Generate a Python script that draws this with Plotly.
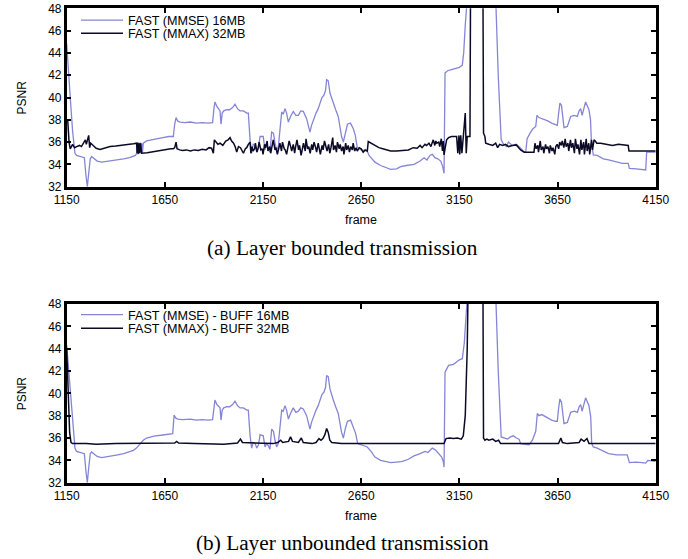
import plotly.graph_objects as go

# ---------------- data ----------------
frames_a_mmse = [1150, 1160, 1170, 1180, 1192, 1200, 1215, 1230, 1240, 1248, 1255, 1262, 1270, 1277, 1290,
                 1305, 1328, 1350, 1380, 1410, 1440, 1470, 1500, 1506, 1510, 1513, 1517, 1520, 1524, 1528,
                 1532, 1536, 1540, 1557, 1580, 1610, 1640, 1670, 1693, 1700, 1707, 1715, 1727, 1750, 1780,
                 1810, 1840, 1870, 1893, 1900, 1905, 1915, 1925, 1931, 1936, 1942, 1950, 1965, 1980, 1995,
                 2007, 2020, 2033, 2050, 2067, 2075, 2084, 2092, 2100, 2110, 2118, 2127, 2135, 2151, 2160,
                 2168, 2177, 2185, 2194, 2203, 2211, 2219, 2228, 2236, 2240, 2245, 2253, 2262, 2270, 2279,
                 2290, 2304, 2317, 2330, 2342, 2355, 2372, 2380, 2389, 2397, 2406, 2420, 2431, 2440, 2450,
                 2460, 2468, 2474, 2482, 2491, 2500, 2508, 2520, 2533, 2550, 2559, 2570, 2580, 2595, 2610,
                 2620, 2630, 2650, 2670, 2681, 2690, 2720, 2749, 2780, 2800, 2830, 2851, 2880, 2919, 2950,
                 2970, 2985, 3000, 3012, 3025, 3040, 3055, 3065, 3072, 3077, 3090, 3110, 3130, 3150, 3165,
                 3172, 3180, 3190, 3195, 3333, 3348, 3363, 3375, 3390, 3400, 3420, 3440, 3460, 3475, 3488,
                 3495, 3510, 3525, 3539, 3545, 3555, 3570, 3580, 3600, 3620, 3640, 3649, 3655, 3662, 3670,
                 3683, 3700, 3717, 3735, 3751, 3760, 3768, 3775, 3785, 3793, 3810, 3818, 3822, 3832, 3852,
                 3883, 3910, 3951, 3980, 4010, 4016, 4050, 4080, 4099, 4104, 4150]
psnr_a_mmse = [44.8, 42.5, 39.5, 37.0, 35.0, 34.8, 34.75, 34.7, 34.6, 33.0, 32.0, 33.2, 34.5, 34.7, 34.5,
               34.3, 34.2, 34.25, 34.35, 34.45, 34.5, 34.6, 34.8, 35.0, 35.9, 34.9, 35.9, 35.0, 35.95, 35.0,
               35.9, 35.1, 35.9, 36.1, 36.2, 36.3, 36.4, 36.5, 36.5, 37.6, 38.2, 37.9, 37.8, 37.75, 37.8,
               37.7, 37.75, 37.7, 37.75, 39.0, 39.6, 39.2, 38.9, 38.8, 37.6, 38.6, 38.8, 38.9, 38.9, 39.1,
               39.4, 39.0, 38.8, 38.8, 38.6, 38.6, 36.2, 35.0, 35.8, 35.7, 35.1, 35.6, 36.5, 36.5, 35.3,
               35.7, 35.5, 35.1, 36.9, 36.8, 35.9, 35.3, 35.6, 36.9, 37.8, 38.7, 38.5, 39.0, 38.6, 37.8,
               38.3, 38.75, 38.4, 38.4, 38.8, 38.75, 38.1, 37.6, 36.9, 37.5, 38.0, 38.6, 39.0, 39.4, 40.0,
               40.2, 40.6, 41.6, 41.5, 40.4, 39.9, 39.5, 38.9, 38.3, 36.5, 36.0, 37.0, 37.6, 37.7, 37.2,
               36.6, 35.5, 35.3, 35.2, 35.2, 34.8, 34.2, 33.9, 33.7, 33.55, 33.6, 33.8, 33.9, 34.0, 34.3,
               34.6, 34.4, 34.8, 34.9, 34.6, 34.5, 34.3, 33.8, 33.2, 42.2, 42.4, 42.5, 42.6, 42.7, 42.9,
               44.0, 46.5, 48.5, 50.0, 50.0, 42.0, 36.2, 35.8, 35.6, 36.0, 35.7, 35.8, 35.5, 35.2, 35.1,
               36.3, 36.8, 37.2, 37.4, 38.4, 38.2, 38.1, 38.1, 37.9, 37.7, 37.6, 37.5, 38.5, 39.5, 39.3,
               37.3, 37.4, 38.3, 38.4, 38.3, 38.8, 39.0, 38.4, 39.2, 39.6, 38.9, 38.0, 36.2, 34.85, 34.8,
               34.5, 34.4, 34.2, 34.1, 34.1, 33.65, 33.6, 33.55, 33.5, 35.1, 35.1]

frames_a_mmax = [1150, 1155, 1162, 1168, 1180, 1190, 1201, 1215, 1225, 1235, 1245, 1250, 1258, 1262, 1267,
                 1272, 1285, 1300, 1320, 1350, 1371, 1400, 1430, 1460, 1490, 1506, 1509, 1512, 1515, 1519,
                 1522, 1526, 1530, 1532, 1560, 1590, 1620, 1650, 1680, 1693, 1700, 1707, 1712, 1725, 1740,
                 1760, 1780, 1800, 1820, 1840, 1860, 1875, 1888, 1893, 1897, 1902, 1910, 1920, 1931, 1945,
                 1960, 1972, 1982, 1990, 2000, 2008, 2016, 2025, 2035, 2050, 2060, 2067, 2075, 2084, 2088,
                 2094, 2099, 2107, 2111, 2119, 2126, 2130, 2139, 2146, 2150, 2158, 2163, 2171, 2175, 2185,
                 2189, 2197, 2202, 2211, 2216, 2223, 2231, 2236, 2244, 2249, 2258, 2263, 2270, 2278, 2283,
                 2292, 2296, 2304, 2311, 2316, 2323, 2331, 2336, 2344, 2350, 2356, 2365, 2369, 2377, 2383,
                 2390, 2398, 2403, 2410, 2418, 2423, 2431, 2437, 2442, 2451, 2456, 2463, 2471, 2476, 2484,
                 2490, 2496, 2505, 2509, 2517, 2524, 2529, 2538, 2543, 2550, 2558, 2562, 2571, 2576, 2584,
                 2590, 2597, 2605, 2609, 2617, 2624, 2630, 2640, 2650, 2660, 2670, 2681, 2686, 2700, 2720,
                 2740, 2760, 2780, 2800, 2830, 2860, 2890, 2915, 2935, 2950, 2960, 2975, 2983, 2995, 3005,
                 3017, 3025, 3030, 3035, 3045, 3050, 3058, 3064, 3068, 3072, 3078, 3085, 3095, 3110, 3125,
                 3136, 3142, 3148, 3152, 3157, 3163, 3170, 3180, 3185, 3190, 3204, 3207, 3270, 3273, 3280,
                 3284, 3300, 3320, 3335, 3345, 3355, 3370, 3385, 3400, 3420, 3440, 3462, 3480, 3510, 3530,
                 3535, 3541, 3549, 3553, 3562, 3567, 3576, 3580, 3589, 3594, 3601, 3609, 3613, 3622, 3627,
                 3636, 3641, 3648, 3656, 3661, 3669, 3674, 3682, 3689, 3694, 3703, 3707, 3716, 3721, 3728,
                 3736, 3741, 3749, 3754, 3762, 3769, 3774, 3783, 3787, 3796, 3801, 3809, 3814, 3823, 3828,
                 3836, 3842, 3850, 3870, 3900, 3930, 3960, 3990, 4010, 4014, 4050, 4100, 4150]
psnr_a_mmax = [38.0, 38.0, 36.0, 35.4, 35.8, 35.5, 35.6, 35.7, 35.6, 35.9, 36.2, 35.8, 36.3, 36.6, 35.5,
               35.9, 35.7, 35.45, 35.35, 35.5, 35.6, 35.65, 35.7, 35.8, 35.85, 35.9, 35.0, 35.95, 34.95, 35.9,
               35.0, 35.9, 35.0, 35.0, 35.05, 35.15, 35.25, 35.3, 35.4, 35.4, 35.5, 36.0, 35.4, 35.3, 35.25,
               35.3, 35.2, 35.3, 35.25, 35.35, 35.3, 35.5, 35.45, 35.2, 35.0, 36.2, 36.0, 35.8, 35.9, 35.7,
               36.1, 36.2, 36.4, 36.1, 35.9, 35.6, 35.1, 35.6, 35.5, 35.0, 35.4, 35.5, 35.8, 36.0, 35.0,
               35.6, 35.2, 35.4, 35.9, 35.1, 35.5, 36.0, 35.3, 35.4, 34.9, 35.8, 35.5, 36.1, 35.2, 35.6,
               35.0, 35.7, 36.2, 35.3, 35.5, 34.9, 35.6, 35.9, 35.2, 36.0, 35.4, 35.3, 34.9, 35.7, 36.1,
               35.5, 35.2, 35.8, 35.0, 35.6, 36.2, 35.3, 35.7, 34.8, 35.5, 35.9, 35.2, 36.3, 35.4, 35.6,
               35.0, 35.8, 35.3, 36.0, 35.5, 35.1, 35.9, 35.4, 34.9, 35.7, 35.3, 36.1, 35.6, 35.2, 35.8,
               35.0, 35.5, 36.4, 35.3, 35.7, 35.1, 36.0, 35.4, 35.8, 35.2, 35.6, 34.9, 35.9, 35.3, 35.7,
               35.1, 35.6, 35.3, 35.9, 35.2, 35.5, 35.2, 35.5, 35.4, 35.1, 35.3, 35.2, 36.05, 35.9, 35.7,
               35.5, 35.4, 35.3, 35.2, 35.2, 35.25, 35.3, 35.5, 35.45, 35.7, 35.5, 35.8, 35.7, 35.9, 35.6,
               36.2, 35.7, 36.1, 35.9, 36.0, 35.6, 36.3, 35.2, 36.1, 34.85, 35.5, 36.2, 36.4, 36.5, 36.5,
               36.5, 35.0, 36.6, 34.9, 36.6, 35.0, 36.6, 38.6, 35.0, 36.5, 36.5, 50.0, 50.0, 36.8, 36.5,
               35.9, 35.8, 35.7, 35.9, 35.5, 35.8, 35.7, 35.8, 35.6, 35.7, 35.75, 35.3, 35.1, 35.1, 35.1,
               35.9, 35.4, 35.7, 35.1, 36.1, 35.3, 35.6, 35.0, 35.8, 35.4, 35.6, 35.0, 35.7, 35.2, 35.5,
               34.9, 35.6, 35.8, 35.4, 36.0, 35.7, 36.1, 35.5, 36.3, 35.6, 35.9, 35.2, 36.2, 35.5, 35.9,
               35.0, 36.3, 35.4, 35.8, 34.9, 36.2, 35.3, 36.0, 34.9, 36.3, 35.2, 35.9, 34.9, 36.2, 35.3,
               36.2, 36.1, 35.9, 35.9, 35.8, 35.7, 35.8, 35.7, 35.7, 35.2, 35.2, 35.15, 35.2]

frames_b_mmse = [1150, 1160, 1170, 1180, 1192, 1200, 1215, 1230, 1240, 1248, 1255, 1262, 1270, 1277, 1290,
                 1305, 1328, 1350, 1371, 1410, 1440, 1470, 1490, 1505, 1523, 1540, 1557, 1574, 1600, 1630,
                 1660, 1690, 1697, 1705, 1715, 1740, 1780, 1810, 1840, 1870, 1893, 1900, 1905, 1915, 1925,
                 1931, 1936, 1942, 1950, 1965, 1980, 1995, 2007, 2020, 2033, 2050, 2067, 2075, 2084, 2092,
                 2100, 2110, 2118, 2127, 2135, 2151, 2160, 2168, 2177, 2185, 2194, 2203, 2211, 2219, 2228,
                 2236, 2240, 2245, 2253, 2262, 2270, 2279, 2290, 2304, 2317, 2330, 2342, 2355, 2372, 2380,
                 2389, 2397, 2406, 2420, 2431, 2440, 2450, 2460, 2468, 2474, 2482, 2491, 2500, 2508, 2520,
                 2533, 2550, 2559, 2570, 2580, 2596, 2610, 2622, 2632, 2650, 2681, 2700, 2720, 2749, 2780,
                 2800, 2830, 2860, 2890, 2919, 2950, 2975, 2990, 3012, 3030, 3045, 3060, 3068, 3072, 3077,
                 3095, 3120, 3150, 3165, 3175, 3190, 3195, 3333, 3348, 3363, 3378, 3395, 3410, 3425, 3440,
                 3454, 3462, 3480, 3505, 3522, 3539, 3547, 3555, 3570, 3580, 3600, 3620, 3640, 3649, 3655,
                 3662, 3670, 3683, 3700, 3717, 3735, 3751, 3760, 3768, 3775, 3785, 3793, 3810, 3819, 3824,
                 3832, 3852, 3883, 3910, 3951, 3980, 4005, 4016, 4050, 4080, 4099, 4110, 4150]
psnr_b_mmse = [44.3, 42.0, 39.5, 37.3, 35.1, 34.8, 34.75, 34.7, 34.6, 33.0, 32.0, 33.3, 34.6, 34.75, 34.55,
               34.35, 34.25, 34.3, 34.35, 34.5, 34.6, 34.75, 34.9, 35.1, 35.45, 35.8, 36.0, 36.1, 36.2, 36.25,
               36.35, 36.4, 38.05, 37.8, 37.7, 37.65, 37.7, 37.6, 37.65, 37.6, 37.65, 38.8, 39.4, 39.0, 38.8,
               38.7, 37.6, 38.5, 38.7, 38.8, 38.8, 39.0, 39.3, 38.9, 38.7, 38.7, 38.5, 38.5, 36.2, 35.1,
               35.6, 35.5, 35.1, 35.4, 36.3, 36.2, 35.2, 35.5, 35.3, 35.0, 36.8, 36.6, 35.8, 35.2, 35.5,
               36.7, 37.6, 38.5, 38.4, 38.9, 38.5, 37.7, 38.2, 38.7, 38.3, 38.4, 38.7, 38.6, 38.0, 37.5,
               36.8, 37.4, 37.9, 38.5, 38.9, 39.3, 39.9, 40.1, 40.5, 41.6, 41.5, 40.4, 39.8, 39.4, 38.8,
               38.2, 36.5, 36.0, 36.9, 37.5, 37.6, 37.0, 36.4, 35.5, 35.4, 35.2, 34.8, 34.3, 34.0, 33.9,
               33.8, 33.85, 33.9, 34.1, 34.4, 34.6, 34.8, 34.7, 35.1, 34.9, 34.6, 34.3, 33.9, 33.4, 41.9,
               42.5, 42.6, 43.0, 43.1, 44.5, 48.5, 50.0, 50.0, 42.0, 36.1, 36.0, 35.9, 36.1, 36.2, 36.0,
               35.9, 35.5, 35.45, 35.4, 35.8, 36.6, 38.2, 38.0, 38.1, 38.0, 37.8, 37.6, 37.5, 37.5, 38.6,
               39.5, 39.2, 37.3, 37.4, 38.3, 38.4, 38.3, 38.8, 39.0, 38.4, 39.2, 39.6, 38.9, 37.9, 35.5,
               35.2, 35.1, 34.8, 34.6, 34.5, 34.5, 34.5, 33.8, 33.85, 33.8, 33.75, 34.0, 33.9]

frames_b_mmax = [1150, 1155, 1160, 1165, 1172, 1180, 1250, 1300, 1400, 1500, 1600, 1700, 1710, 1720, 1800,
                 1900, 1950, 2020, 2035, 2045, 2100, 2150, 2200, 2225, 2240, 2250, 2280, 2290, 2300, 2330,
                 2345, 2355, 2400, 2420, 2435, 2445, 2455, 2465, 2474, 2482, 2490, 2500, 2550, 2600, 2800,
                 3000, 3072, 3082, 3100, 3120, 3140, 3160, 3170, 3180, 3190, 3195, 3270, 3273, 3280, 3290,
                 3300, 3320, 3335, 3350, 3360, 3400, 3500, 3600, 3655, 3667, 3675, 3700, 3760, 3770, 3785,
                 3800, 3810, 3900, 4000, 4150]
psnr_b_mmax = [44.0, 42.0, 39.0, 36.5, 35.6, 35.5, 35.5, 35.45, 35.5, 35.5, 35.5, 35.55, 35.7, 35.55, 35.5,
               35.5, 35.45, 35.55, 35.9, 35.6, 35.55, 35.5, 35.5, 35.6, 35.8, 35.6, 35.7, 36.1, 35.7, 35.6,
               36.0, 35.6, 35.5, 35.6, 35.95, 35.8, 35.95, 36.3, 36.85, 36.5, 35.8, 35.6, 35.5, 35.5, 35.5,
               35.5, 35.5, 35.95, 36.0, 35.95, 36.0, 35.9, 36.2, 38.0, 44.0, 50.0, 50.0, 36.0, 35.8, 35.9,
               35.8, 35.9, 35.7, 35.8, 35.5, 35.5, 35.5, 35.5, 35.5, 36.0, 35.6, 35.5, 35.6, 35.9, 35.7,
               35.95, 35.5, 35.5, 35.5, 35.5]

x_ticks = [1150, 1650, 2150, 2650, 3150, 3650, 4150]
y_ticks = [32, 34, 36, 38, 40, 42, 44, 46, 48]

names = ["FAST (MMSE) 16MB", "FAST (MMAX) 32MB",
         "FAST (MMSE) - BUFF 16MB", "FAST (MMAX) - BUFF 32MB"]
captions = ["(a) Layer bounded transmission", "(b) Layer unbounded transmission"]

# ---------------- figure ----------------
W, H = 688, 559
BLUE = "#8585d6"
DARK = "#0a0a26"
SANS = "Liberation Sans, Arial, sans-serif"
SERIF = "Liberation Serif, Times New Roman, serif"

def px_x(p):
    return p / W

def px_y(p):
    return 1 - p / H

fig = go.Figure()
fig.add_trace(go.Scatter(x=frames_a_mmse, y=psnr_a_mmse, mode="lines", name=names[0],
                         line=dict(color=BLUE, width=1.3), xaxis="x", yaxis="y", legend="legend"))
fig.add_trace(go.Scatter(x=frames_a_mmax, y=psnr_a_mmax, mode="lines", name=names[1],
                         line=dict(color=DARK, width=1.5), xaxis="x", yaxis="y", legend="legend2"))
fig.add_trace(go.Scatter(x=frames_b_mmse, y=psnr_b_mmse, mode="lines", name=names[2],
                         line=dict(color=BLUE, width=1.3), xaxis="x2", yaxis="y2", legend="legend3"))
fig.add_trace(go.Scatter(x=frames_b_mmax, y=psnr_b_mmax, mode="lines", name=names[3],
                         line=dict(color=DARK, width=1.5), xaxis="x2", yaxis="y2", legend="legend4"))

xdom = [px_x(66.7), px_x(655.7)]
ydom_a = [px_y(186.7), px_y(8.3)]
ydom_b = [px_y(482.7), px_y(304.0)]

axis_common = dict(showline=True, linecolor="black", linewidth=2.5, mirror="ticks",
                   ticks="inside", ticklen=5, tickwidth=2, tickcolor="black",
                   showgrid=False, zeroline=False, automargin=False,
                   tickfont=dict(family=SANS, size=12, color="black"))

fig.update_layout(
    template="none",
    width=W, height=H, margin=dict(l=0, r=0, t=0, b=0, autoexpand=False),
    paper_bgcolor="white", plot_bgcolor="white",
    xaxis=dict(domain=xdom, range=[1150, 4150], tickvals=x_ticks, anchor="y", **axis_common),
    yaxis=dict(domain=ydom_a, range=[32, 48], tickvals=y_ticks, anchor="x", **axis_common),
    xaxis2=dict(domain=xdom, range=[1150, 4150], tickvals=x_ticks, anchor="y2", **axis_common),
    yaxis2=dict(domain=ydom_b, range=[32, 48], tickvals=y_ticks, anchor="x2", **axis_common),
    showlegend=True,
)

leg_common = dict(xref="paper", yref="paper", xanchor="left", yanchor="middle",
                  bgcolor="rgba(0,0,0,0)", borderwidth=0, itemwidth=42,
                  font=dict(family=SANS, size=12.6, color="black"))
leg_x = px_x(76)
fig.update_layout(
    legend=dict(x=leg_x, y=px_y(20.5), **leg_common),
    legend2=dict(x=leg_x, y=px_y(33.5), **leg_common),
    legend3=dict(x=leg_x, y=px_y(315.0), **leg_common),
    legend4=dict(x=leg_x, y=px_y(328.5), **leg_common),
)

anns = []
for yc in (97.5, 393.3):
    anns.append(dict(text="PSNR", x=px_x(22), y=px_y(yc), xref="paper", yref="paper",
                     showarrow=False, textangle=-90, xanchor="center", yanchor="middle",
                     font=dict(family=SANS, size=12, color="black")))
for yc in (220.0, 515.5):
    anns.append(dict(text="frame", x=px_x(361.2), y=px_y(yc), xref="paper", yref="paper",
                     showarrow=False, xanchor="center", yanchor="middle",
                     font=dict(family=SANS, size=12.5, color="black")))
for cap, yc in zip(captions, (248.0, 543.0)):
    anns.append(dict(text=cap, x=px_x(342), y=px_y(yc), xref="paper", yref="paper",
                     showarrow=False, xanchor="center", yanchor="middle",
                     font=dict(family=SERIF, size=21.3, color="black")))
fig.update_layout(annotations=anns)

fig.write_html("out.html", config={"displayModeBar": False},
               post_script="document.body.style.margin='0';")
